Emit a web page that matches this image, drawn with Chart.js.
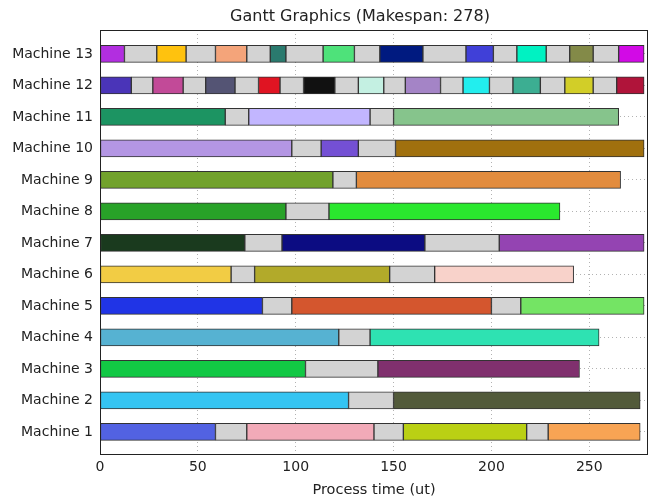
<!DOCTYPE html>
<html>
<head>
<meta charset="utf-8">
<script src="https://cdn.jsdelivr.net/npm/chart.js@4"></script>
<style>
  html, body { margin: 0; padding: 0; background: #fff; }
  #wrap { width: 649px; height: 499px; }
</style>
</head>
<body>
<div id="wrap"><canvas id="myChart" width="649" height="499"></canvas></div>
<script>
// machines, bottom to top
const machines = ["Machine 1", "Machine 2", "Machine 3", "Machine 4", "Machine 5", "Machine 6", "Machine 7",
  "Machine 8", "Machine 9", "Machine 10", "Machine 11", "Machine 12", "Machine 13"];

// segment boundaries (process time) for each machine
const m1Times = [0, 59, 75, 140, 155, 218, 229, 276];
const m2Times = [0, 127, 150, 276];
const m3Times = [0, 105, 142, 245];
const m4Times = [0, 122, 138, 255];
const m5Times = [0, 83, 98, 200, 215, 278];
const m6Times = [0, 67, 79, 148, 171, 242];
const m7Times = [0, 74, 93, 166, 204, 278];
const m8Times = [0, 95, 117, 235];
const m9Times = [0, 119, 131, 266];
const m10Times = [0, 98, 113, 132, 151, 278];
const m11Times = [0, 64, 76, 138, 150, 265];
const m12Times = [0, 16, 27, 42.5, 54, 69, 81, 92, 104, 120, 132, 145, 156, 174, 185.5, 199, 211, 225, 237.5, 252, 264, 278];
const m13Times = [0, 12.5, 29, 44, 59, 75, 87, 95, 114, 130, 143, 165, 187, 201, 213, 228, 240, 252, 265, 278];

const xTicks = [0, 50, 100, 150, 200, 250];
const chartTitle = "Gantt Graphics (Makespan: 278)";

// colours
const G = "#d3d3d3";
const m1Colors = ["#5262e2", G, "#f2aab8", G, "#bad014", G, "#f8a454"];
const m2Colors = ["#34c4f2", G, "#525a3a"];
const m3Colors = ["#12c844", G, "#80306e"];
const m4Colors = ["#56b2d2", G, "#2ee2b2"];
const m5Colors = ["#2034e6", G, "#d4562e", G, "#74e464"];
const m6Colors = ["#f2cc44", G, "#b2aa2a", G, "#f8d2ca"];
const m7Colors = ["#1a3a1e", G, "#0c0c82", G, "#9444b2"];
const m8Colors = ["#28a228", G, "#2ae82e"];
const m9Colors = ["#72a22c", G, "#e28c3e"];
const m10Colors = ["#b496e4", G, "#7450d4", G, "#a0700e"];
const m11Colors = ["#1c9462", G, "#c2b6ff", G, "#86c48c"];
const m12Colors = ["#4a34b8", G, "#c24a98", G, "#545474", G, "#e01422", G, "#111111", G, "#c4f0e2", G,
  "#a484c6", G, "#22eeee", G, "#3cae92", G, "#d2ce28", G, "#b0143a"];
const m13Colors = ["#b22ee0", G, "#ffc20e", G, "#f4a47a", G, "#2a7a6e", G, "#4ee27a", G, "#001a80", G,
  "#4040d8", G, "#00f2c2", G, "#838a48", G, "#d20ae6"];

const allTimes = [m1Times, m2Times, m3Times, m4Times, m5Times, m6Times, m7Times, m8Times, m9Times, m10Times, m11Times, m12Times, m13Times];
const allColors = [m1Colors, m2Colors, m3Colors, m4Colors, m5Colors, m6Colors, m7Colors, m8Colors, m9Colors, m10Colors, m11Colors, m12Colors, m13Colors];

let bars = [];
let colors = [];
for (let i = 0; i < allTimes.length; i++) {
  const t = allTimes[i];
  for (let j = 0; j < t.length - 1; j++) {
    bars.push({ x: [t[j], t[j + 1]], y: i + 1 });
    colors.push(allColors[i][j]);
  }
}

const textColor = "#222";

// plot frame + title
const frame = {
  id: "frame",
  afterDraw(chart) {
    const a = chart.chartArea;
    const c = chart.ctx;
    c.save();
    c.strokeStyle = "#222";
    c.lineWidth = 1;
    c.strokeRect(Math.round(a.left) + 0.5, Math.round(a.top) + 0.5, Math.round(a.right - a.left) - 1, Math.round(a.bottom - a.top));
    c.fillStyle = textColor;
    c.font = "16px 'DejaVu Sans'";
    c.textAlign = "center";
    c.textBaseline = "middle";
    c.fillText(chartTitle, 360, 17);
    c.restore();
  }
};

var ctx = document.getElementById("myChart");
var myChart = new Chart(ctx, {
  type: "bar",
  data: {
    datasets: [{
      data: bars,
      backgroundColor: colors,
      borderColor: "#333",
      borderWidth: 1,
      borderSkipped: false,
      barThickness: 17,
      grouped: false,
    }],
  },
  options: {
    indexAxis: "y",
    responsive: false,
    animation: false,
    layout: { padding: { left: 0, right: 1, top: 30, bottom: 0 } },
    plugins: {
      legend: { display: false },
      tooltip: { enabled: false },
      title: { display: false },
    },
    scales: {
      x: {
        type: "linear",
        min: 0,
        max: 280,
        z: 1,
        afterBuildTicks: (s) => { s.ticks = xTicks.map(v => ({ value: v })); },
        afterFit: (s) => { s.height = 45; },
        grid: { color: "rgba(0,0,0,0.3)", drawTicks: false },
        border: { display: false, dash: [1, 3] },
        ticks: { color: textColor, padding: 5, font: { family: "DejaVu Sans", size: 14 } },
        title: {
          display: true,
          text: "Process time (ut)",
          color: textColor,
          padding: { top: 2, bottom: 0 },
          font: { family: "DejaVu Sans", size: 14.5 },
        },
      },
      y: {
        type: "linear",
        min: 0.3,
        max: 13.76,
        offset: false,
        z: 1,
        afterBuildTicks: (s) => { s.ticks = machines.map((m, i) => ({ value: i + 1 })); },
        afterFit: (s) => { s.width = 100; },
        grid: { color: "rgba(0,0,0,0.3)", drawTicks: false, offset: false },
        border: { display: false, dash: [1, 3] },
        ticks: {
          color: textColor,
          padding: 7,
          font: { family: "DejaVu Sans", size: 14 },
          callback: (v) => machines[v - 1],
        },
      },
    },
  },
  plugins: [frame],
});
</script>
</body>
</html>
